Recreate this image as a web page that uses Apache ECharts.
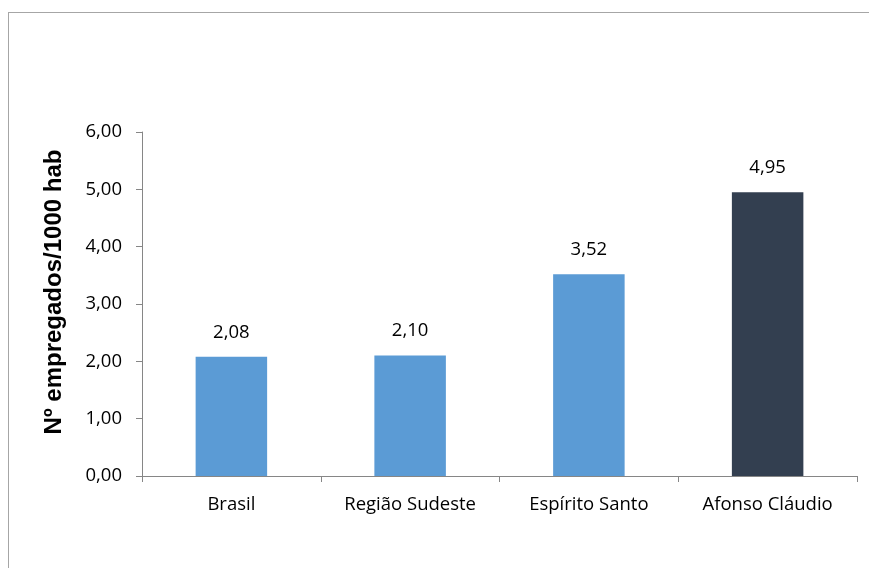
<!DOCTYPE html>
<html>
<head>
<meta charset="utf-8">
<script src="https://cdn.jsdelivr.net/npm/echarts@6/dist/echarts.min.js"></script>
<style>
  html, body { margin: 0; padding: 0; background: #fff; }
  #frame { position: absolute; left: 8px; top: 12px; width: 900px; height: 600px; border: 1px solid #a6a6a6; box-sizing: border-box; }
  #chart { position: absolute; left: 0; top: 0; width: 869px; height: 568px; }
</style>
</head>
<body>
<div id="frame"></div>
<div id="chart"></div>
<script>
// Employees per 1000 inhabitants by territory
const categories = ['Brasil', 'Região Sudeste', 'Espírito Santo', 'Afonso Cláudio'];
const values = [2.08, 2.10, 3.52, 4.95];
const barColors = ['#5b9bd5', '#5b9bd5', '#5b9bd5', '#333f50'];
const yTicks = { min: 0, max: 6, interval: 1 };
const yTitle = 'Nº empregados/1000 hab';

const fmt = v => v.toFixed(2).replace('.', ',');
const font = '"Open Sans", sans-serif';
const textSize = 18.5;

const chart = echarts.init(document.getElementById('chart'), null, { renderer: 'canvas' });
chart.setOption({
  animation: false,
  grid: { left: 142, right: 12, top: 132, bottom: 92 },
  xAxis: {
    type: 'category',
    data: categories,
    axisLine: { lineStyle: { color: '#868686', width: 1 } },
    axisTick: { show: true, length: 6, lineStyle: { color: '#868686' } },
    axisLabel: { color: '#000', fontFamily: font, fontSize: textSize, margin: 19 },
    splitLine: { show: false }
  },
  yAxis: {
    type: 'value',
    min: yTicks.min, max: yTicks.max, interval: yTicks.interval,
    name: yTitle,
    nameLocation: 'middle',
    nameGap: 76,
    nameTextStyle: {
      color: '#000', fontFamily: '"Liberation Sans", Arial, sans-serif',
      fontWeight: 'bold', fontSize: 24, padding: [0, 0, 0, 24]
    },
    axisLine: { show: true, lineStyle: { color: '#868686', width: 1 } },
    axisTick: { show: true, length: 6, lineStyle: { color: '#868686' } },
    axisLabel: { color: '#000', fontFamily: font, fontSize: textSize, margin: 20, formatter: fmt },
    splitLine: { show: false }
  },
  series: [{
    type: 'bar',
    barCategoryGap: '60%',
    data: values.map((v, i) => ({ value: v, itemStyle: { color: barColors[i] } })),
    label: {
      show: true, position: 'top', distance: 15,
      color: '#000', fontFamily: font, fontSize: textSize,
      formatter: p => fmt(p.value)
    }
  }]
});
</script>
</body>
</html>
